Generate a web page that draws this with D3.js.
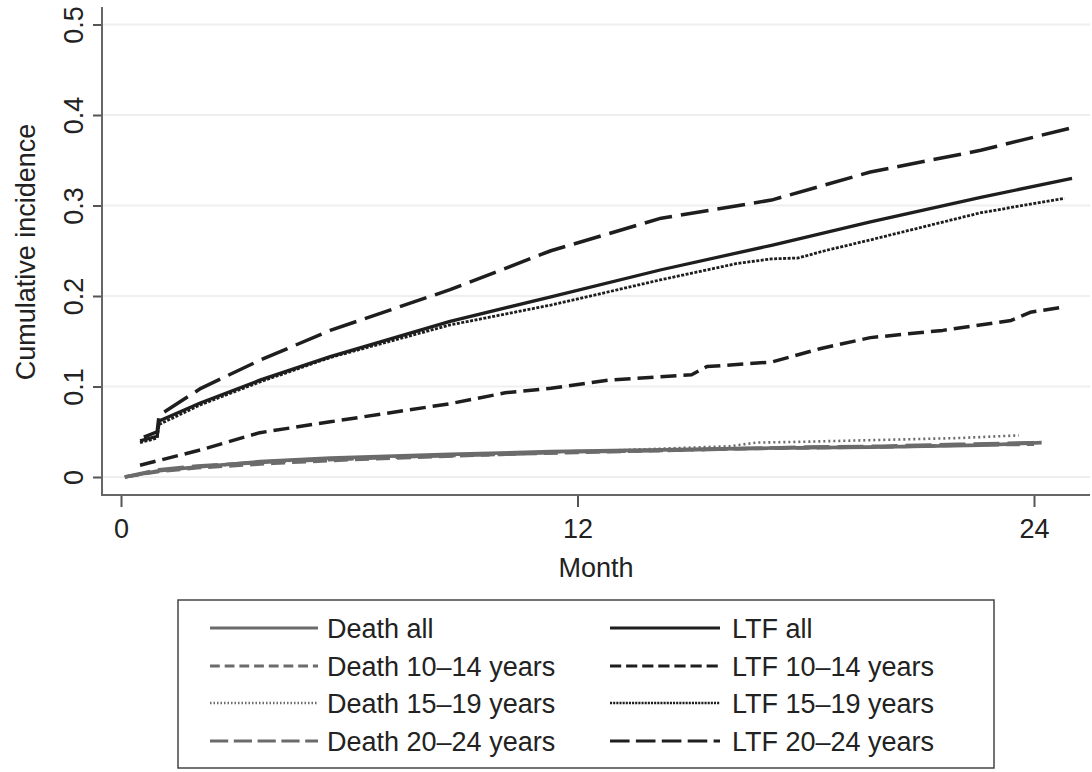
<!DOCTYPE html>
<html lang="en">
<head>
  <meta charset="UTF-8" />
  <title>Cumulative incidence</title>
  <script src="https://d3js.org/d3.v7.min.js"></script>
  <style>
    body {
      margin: 0;
      background: #fff;
      font-family: 'Liberation Sans', Arial, sans-serif;
    }
    svg text {
      fill: #222;
    }
  </style>
</head>
<body>
<svg id="chart" width="1092" height="772"></svg>

<script>
  // [month, cumulative incidence]
  const deathAll   = [[0.1,0],[1,0.007],[2,0.011],[3.65,0.017],[5.5,0.021],[8.65,0.025],[11.3,0.028],[14.2,0.030],[17.1,0.032],[19.7,0.033],[22.6,0.035],[24.2,0.038]];
  const death1014  = [[0.1,0],[1,0.006],[2,0.010],[4,0.015],[6,0.019],[8,0.022],[10,0.025],[12,0.027],[14,0.029],[16,0.031],[18,0.032],[20,0.033],[22,0.035],[24,0.036]];
  const death1519  = [[0.1,0],[1,0.007],[2,0.011],[4,0.017],[6,0.021],[8,0.024],[10,0.026],[12,0.028],[14,0.031],[16,0.034],[16.7,0.038],[18,0.039],[20,0.041],[22,0.043],[23.6,0.046]];
  const death2024  = [[0.1,0],[1,0.008],[2,0.012],[4,0.017],[6,0.020],[8,0.023],[10,0.025],[12,0.028],[14,0.029],[16,0.031],[18,0.033],[20,0.034],[22,0.036],[24.2,0.038]];

  const ltfAll     = [[0.5,0.040],[0.95,0.045],[1.0,0.062],[2.1,0.082],[3.65,0.107],[5.5,0.133],[8.65,0.172],[11.3,0.199],[14.2,0.229],[17.1,0.256],[19.7,0.282],[22.6,0.309],[25,0.330]];
  const ltf1014    = [[0.5,0.013],[2.1,0.030],[3.65,0.049],[5.5,0.061],[8.65,0.081],[10.1,0.093],[11.3,0.098],[12.8,0.107],[15,0.113],[15.4,0.122],[17.1,0.127],[18.4,0.142],[19.7,0.154],[21.6,0.162],[23.4,0.173],[23.9,0.182],[24.8,0.188]];
  const ltf1519    = [[0.5,0.038],[0.95,0.043],[1.0,0.058],[2.1,0.080],[3.65,0.105],[5.5,0.132],[8.65,0.168],[11.3,0.190],[14.2,0.218],[16.2,0.236],[17.1,0.241],[17.8,0.242],[18.5,0.250],[19.7,0.262],[22.6,0.292],[24.8,0.308]];
  const ltf2024    = [[0.6,0.044],[0.95,0.050],[1.0,0.068],[2.1,0.098],[3.65,0.129],[5.5,0.162],[8.65,0.207],[11.3,0.250],[14.2,0.286],[17.1,0.306],[19.7,0.337],[22.6,0.361],[25,0.386]];

  const xTicks = [0, 12, 24];
  const yTicks = [0, 0.1, 0.2, 0.3, 0.4, 0.5];

  const grey = "#6b6b6b";
  const black = "#1e1e1e";

  const series = [
    { name: "Death all",         data: deathAll,  color: grey,  width: 3.6, dash: null },
    { name: "Death 10\u201314 years", data: death1014, color: grey,  width: 3.2, dash: "14,7" },
    { name: "Death 15\u201319 years", data: death1519, color: grey,  width: 2.6, dash: "2,3" },
    { name: "Death 20\u201324 years", data: death2024, color: grey,  width: 3.6, dash: "26,8" },
    { name: "LTF all",           data: ltfAll,    color: black, width: 3.3, dash: null },
    { name: "LTF 10\u201314 years",   data: ltf1014,   color: black, width: 3.5, dash: "16,7" },
    { name: "LTF 15\u201319 years",   data: ltf1519,   color: black, width: 2.8, dash: "3,1.5" },
    { name: "LTF 20\u201324 years",   data: ltf2024,   color: black, width: 3.5, dash: "28,9" }
  ];

  const svg = d3.select("#chart");

  const x = d3.scaleLinear().domain([0, 24]).range([121, 1034]);
  const y = d3.scaleLinear().domain([0, 0.5]).range([477, 24.5]);

  const axisLeft = 102, axisBottom = 495, plotRight = 1090, plotTop = 7;
  const fontSize = "27px";

  // grid
  svg.append("g")
    .selectAll("line")
    .data(yTicks)
    .enter().append("line")
    .attr("x1", axisLeft)
    .attr("x2", plotRight)
    .attr("y1", d => y(d))
    .attr("y2", d => y(d))
    .attr("stroke", "#efefef")
    .attr("stroke-width", 2);

  // axes
  const yAxis = svg.append("g")
    .attr("transform", `translate(${axisLeft},0)`)
    .call(d3.axisLeft(y).tickValues(yTicks).tickSize(9).tickFormat(d3.format("")));
  yAxis.select(".domain").remove();
  yAxis.selectAll(".tick line").attr("stroke", "#555").attr("stroke-width", 2);
  yAxis.selectAll(".tick text")
    .attr("x", 0).attr("dy", 0)
    .attr("transform", "translate(-19,0) rotate(-90)")
    .attr("text-anchor", "middle")
    .style("font-size", fontSize)
    .style("font-family", "'Liberation Sans', Arial, sans-serif")
    .attr("fill", "#222");

  const xAxis = svg.append("g")
    .attr("transform", `translate(0,${axisBottom})`)
    .call(d3.axisBottom(x).tickValues(xTicks).tickSize(12));
  xAxis.select(".domain").remove();
  xAxis.selectAll(".tick line").attr("stroke", "#555").attr("stroke-width", 2);
  xAxis.selectAll(".tick text")
    .attr("y", 43).attr("dy", 0)
    .style("font-size", fontSize)
    .style("font-family", "'Liberation Sans', Arial, sans-serif")
    .attr("fill", "#222");

  svg.append("line")
    .attr("x1", axisLeft).attr("x2", axisLeft)
    .attr("y1", plotTop).attr("y2", axisBottom + 1)
    .attr("stroke", "#666").attr("stroke-width", 2);
  svg.append("line")
    .attr("x1", axisLeft - 1).attr("x2", plotRight)
    .attr("y1", axisBottom).attr("y2", axisBottom)
    .attr("stroke", "#666").attr("stroke-width", 2);

  // axis titles
  svg.append("text")
    .attr("transform", "translate(35,252) rotate(-90)")
    .attr("text-anchor", "middle")
    .style("font-size", fontSize)
    .text("Cumulative incidence");

  svg.append("text")
    .attr("x", 596).attr("y", 577)
    .attr("text-anchor", "middle")
    .style("font-size", fontSize)
    .text("Month");

  // curves
  const line = d3.line()
    .x(d => x(d[0]))
    .y(d => y(d[1]));

  svg.append("g")
    .selectAll("path")
    .data(series)
    .enter().append("path")
    .attr("d", d => line(d.data))
    .attr("fill", "none")
    .attr("stroke", d => d.color)
    .attr("stroke-width", d => d.width)
    .attr("stroke-dasharray", d => d.dash)
    .attr("stroke-linejoin", "round");

  // legend
  const legend = svg.append("g");
  legend.append("rect")
    .attr("x", 178).attr("y", 600)
    .attr("width", 816).attr("height", 168)
    .attr("fill", "#fff")
    .attr("stroke", "#444")
    .attr("stroke-width", 1.5);

  const rows = [638, 676, 713, 751];
  const items = legend.selectAll("g.item")
    .data(series)
    .enter().append("g")
    .attr("class", "item")
    .attr("transform", (d, i) => {
      const col = i < 4 ? 0 : 1;
      const row = i % 4;
      return `translate(${col ? 610 : 210},${rows[row]})`;
    });

  items.append("line")
    .attr("x1", 0).attr("x2", d => d.color === black ? 110 : 108)
    .attr("y1", -10).attr("y2", -10)
    .attr("stroke", d => d.color)
    .attr("stroke-width", d => d.width * 0.9)
    .attr("stroke-dasharray", d => d.dash ? (d.dash === "2,3" ? "1.5,2" : d.dash.split(",").map(v => v * 0.7).join(",")) : null);

  items.append("text")
    .attr("x", (d, i) => i < 4 ? 117 : 122)
    .attr("y", 0)
    .style("font-size", fontSize)
    .text(d => d.name);
</script>
</body>
</html>
